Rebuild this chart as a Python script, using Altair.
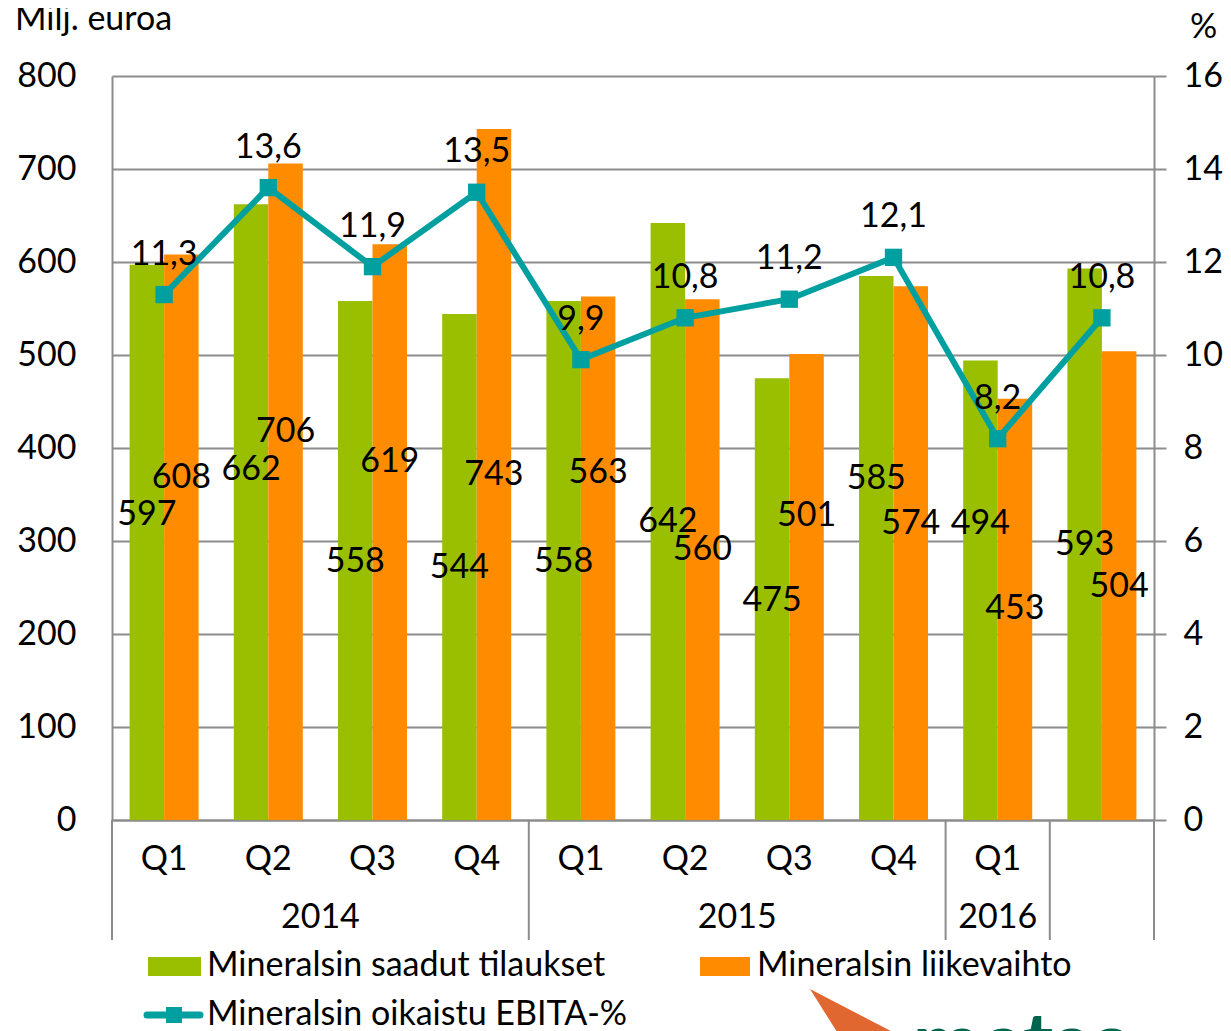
import altair as alt
import pandas as pd

# ---- data ----
quarters = ["Q1", "Q2", "Q3", "Q4", "Q1", "Q2", "Q3", "Q4", "Q1", ""]
years = ["2014", "2014", "2014", "2014", "2015", "2015", "2015", "2015", "2016", ""]
orders = [597, 662, 558, 544, 558, 642, 475, 585, 494, 593]
sales = [608, 706, 619, 743, 563, 560, 501, 574, 453, 504]
ebita = [11.3, 13.6, 11.9, 13.5, 9.9, 10.8, 11.2, 12.1, 8.2, 10.8]
# where the value labels of the bars sit (left-axis units, as placed in the original)
orders_label_at = [328, 376, 277, 271, 277, 320, 235, 367, 318, 296]
sales_label_at = [368, 417, 385, 371, 373, 290, 327, 318, 227, 251]

series_names = ["Mineralsin saadut tilaukset", "Mineralsin liikevaihto",
                "Mineralsin oikaistu EBITA-%"]
year_labels = ["2014", "2015", "2016"]

GREEN = "#99BF00"
ORANGE = "#FF8C00"
TEAL = "#00A0A0"
GRID = "#8C8C8C"
FONT = "Lato"
FS = 34

keys = [f"{y}|{q}" for y, q in zip(years, quarters)]

bars_df = pd.DataFrame(
    [{"key": k, "s": "a", "value": v, "label_at": la} for k, v, la in zip(keys, orders, orders_label_at)]
    + [{"key": k, "s": "b", "value": v, "label_at": la} for k, v, la in zip(keys, sales, sales_label_at)]
)
line_df = pd.DataFrame({"key": keys, "ebita": ebita,
                        "txt": [f"{v:.1f}".replace(".", ",") for v in ebita]})

W, H = 1042, 744

xscale = alt.Scale(domain=keys, paddingInner=0, paddingOuter=0)
xaxis = alt.Axis(labelExpr="split(datum.value, '|')[1]", ticks=False,
                 labelPadding=22, title=None, labelAngle=0, grid=False,
                 domain=True, domainColor=GRID, domainWidth=2,
                 labelFont=FONT, labelFontSize=FS, labelColor="black")


def X(**kw):
    return alt.X("key:N", sort=keys, scale=xscale, axis=xaxis, **kw)


xoff = alt.XOffset("s:N", scale=alt.Scale(domain=["a", "b"], paddingOuter=0.51, paddingInner=0))

lscale = alt.Scale(domain=[0, 800])
laxis = alt.Axis(values=list(range(0, 801, 100)), ticks=False, labelPadding=36,
                 title=None, grid=True, gridColor=GRID, gridWidth=2,
                 domainColor=GRID, domainWidth=2,
                 labelFont=FONT, labelFontSize=FS, labelColor="black")
rscale = alt.Scale(domain=[0, 16])
raxis = alt.Axis(orient="right", values=list(range(0, 17, 2)), tickSize=12,
                 tickColor=GRID, tickWidth=2, labelPadding=17, title=None,
                 grid=False, domainColor=GRID, domainWidth=2,
                 labelFont=FONT, labelFontSize=FS, labelColor="black")

bars = alt.Chart(bars_df).mark_bar().encode(
    x=X(),
    xOffset=xoff,
    y=alt.Y("value:Q", scale=lscale, axis=laxis),
    color=alt.Color("s:N", scale=alt.Scale(domain=["a", "b"], range=[GREEN, ORANGE]), legend=None),
)
bar_labels = alt.Chart(bars_df).mark_text(font=FONT, fontSize=FS, color="black",
                                          baseline="middle").encode(
    x=X(),
    xOffset=xoff,
    y=alt.Y("label_at:Q", scale=lscale, axis=laxis),
    text=alt.Text("value:Q"),
)
left = alt.layer(bars, bar_labels)

line = alt.Chart(line_df).mark_line(color=TEAL, strokeWidth=6).encode(
    x=X(), y=alt.Y("ebita:Q", scale=rscale, axis=raxis))
pts = alt.Chart(line_df).mark_point(shape="square", filled=True, size=300, color=TEAL,
                                    opacity=1).encode(
    x=X(), y=alt.Y("ebita:Q", scale=rscale, axis=raxis))
elabels = alt.Chart(line_df).mark_text(font=FONT, fontSize=FS, color="black",
                                       baseline="middle", dy=-40).encode(
    x=X(), y=alt.Y("ebita:Q", scale=rscale, axis=raxis), text="txt:N")
right = alt.layer(line, pts, elabels)

# separators of the year groups below the axis
sep_left = alt.Chart(pd.DataFrame({"key": [keys[0], keys[4], keys[8], keys[9]]})).mark_rule(
    color=GRID, strokeWidth=2).encode(
    x=X(bandPosition=0), y=alt.value(H), y2=alt.value(H + 120))
sep_right = alt.Chart(pd.DataFrame({"key": [keys[9]]})).mark_rule(
    color=GRID, strokeWidth=2).encode(
    x=X(bandPosition=1), y=alt.value(H), y2=alt.value(H + 120))

yl1 = alt.Chart(pd.DataFrame({"key": [keys[1], keys[5]], "t": year_labels[:2]})).mark_text(
    font=FONT, fontSize=FS, color="black", baseline="middle").encode(
    x=X(bandPosition=1), y=alt.value(H + 98), text="t:N")
yl2 = alt.Chart(pd.DataFrame({"key": [keys[8]], "t": year_labels[2:]})).mark_text(
    font=FONT, fontSize=FS, color="black", baseline="middle").encode(
    x=X(bandPosition=0.5), y=alt.value(H + 98), text="t:N")

one = alt.Data(values=[{}])


def txt(t, x, y, align="left", **kw):
    return alt.Chart(one).mark_text(text=t, font=FONT, fontSize=FS, color="black",
                                    align=align, baseline="middle", **kw).encode(
        x=alt.value(x), y=alt.value(y))


def rect(x, x2, y, y2, color):
    return alt.Chart(one).mark_rect(color=color).encode(
        x=alt.value(x), x2=alt.value(x2), y=alt.value(y), y2=alt.value(y2))


legend = [
    rect(36, 89, 881, 900, GREEN), txt(series_names[0], 95, 890),
    rect(588, 638, 881, 900, ORANGE), txt(series_names[1], 645, 890),
    alt.Chart(one).mark_rule(color=TEAL, strokeWidth=7, strokeCap="round").encode(
        x=alt.value(35), x2=alt.value(88), y=alt.value(939)),
    rect(54, 70, 931, 947, TEAL),
    txt(series_names[2], 95, 939),
]
titles = [txt("Milj. euroa", -97, -56), txt("%", 1078, -48)]

logo = [
    alt.Chart(one).mark_arc(color="#E06830", theta=2.05, theta2=2.58, outerRadius=92,
                            innerRadius=0).encode(x=alt.value(698), y=alt.value(913)),
    alt.Chart(one).mark_text(text="metso", font=FONT, fontSize=80, fontWeight=900,
                             color="#00654F", align="left", baseline="alphabetic").encode(
        x=alt.value(801), y=alt.value(994)),
]

chart = alt.layer(left, right, sep_left, sep_right, yl1, yl2, *legend, *titles, *logo).resolve_scale(
    y="independent"
).properties(
    width=W, height=H,
    autosize=alt.AutoSizeParams(type="none"),
    padding={"left": 104, "top": 68, "right": 69, "bottom": 211},
).configure_view(stroke=None)

chart.save("out.html", embed_options={"renderer": "svg", "actions": False})
